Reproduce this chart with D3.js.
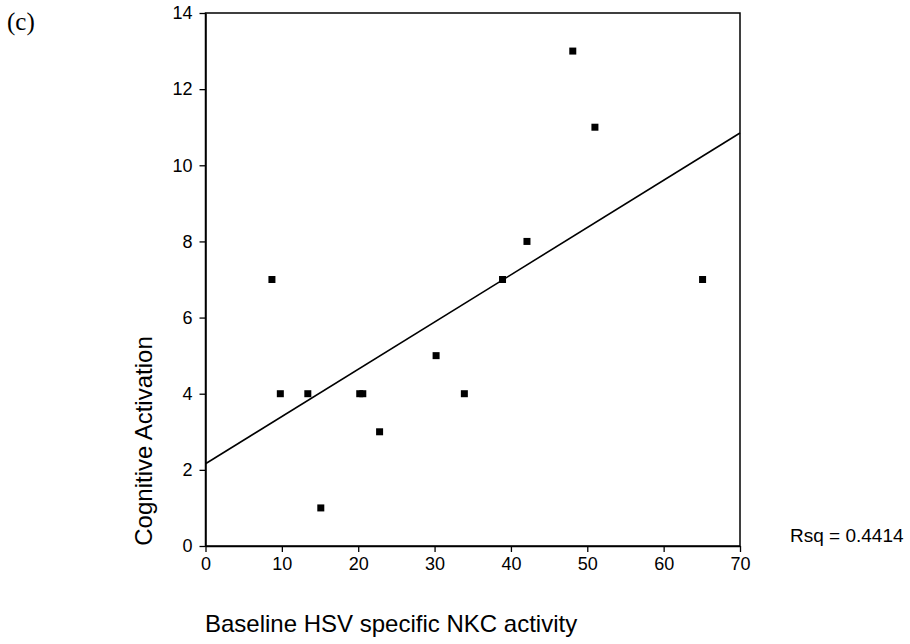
<!DOCTYPE html>
<html>
<head>
<meta charset="utf-8">
<script src="https://cdn.jsdelivr.net/npm/d3@7"></script>
<style>
  body { margin: 0; background: #fff; }
  svg { display: block; }
</style>
</head>
<body>
<div id="vis"></div>
<script>
// data
const NKC_ACTIVITY = [8.7, 9.8, 13.4, 15.1, 20.2, 20.6, 22.8, 30.2, 33.9, 38.9, 42.1, 48.1, 51.0, 65.1];
const COGNITIVE = [7, 4, 4, 1, 4, 4, 3, 5, 4, 7, 8, 13, 11, 7];
const X_TICKS = [0, 10, 20, 30, 40, 50, 60, 70];
const Y_TICKS = [0, 2, 4, 6, 8, 10, 12, 14];
const FIT_INTERCEPT = 2.16;
const FIT_SLOPE = 0.1241;
const RSQ_LABEL = "Rsq = 0.4414";

// frame
const FRAME_WIDTH = 910;
const FRAME_HEIGHT = 644;
const MARGINS = {left: 205.5, right: 170, top: 13, bottom: 98};

const VIS_WIDTH = FRAME_WIDTH - MARGINS.left - MARGINS.right;
const VIS_HEIGHT = FRAME_HEIGHT - MARGINS.top - MARGINS.bottom;

const FONT = "'Liberation Sans', Arial, sans-serif";

const FRAME = d3.select("#vis")
  .append("svg")
    .attr("width", FRAME_WIDTH)
    .attr("height", FRAME_HEIGHT);

const X_SCALE = d3.scaleLinear().domain([0, 70]).range([0, VIS_WIDTH]);
const Y_SCALE = d3.scaleLinear().domain([0, 14]).range([VIS_HEIGHT, 0]);

const plot = FRAME.append("g")
  .attr("transform", "translate(" + MARGINS.left + "," + MARGINS.top + ")");

// box around the plot
plot.append("rect")
  .attr("x", 0).attr("y", 0)
  .attr("width", VIS_WIDTH).attr("height", VIS_HEIGHT)
  .attr("fill", "none")
  .attr("stroke", "#000")
  .attr("stroke-width", 1.5);

// axes
const xAxis = plot.append("g")
  .attr("transform", "translate(0," + VIS_HEIGHT + ")")
  .call(d3.axisBottom(X_SCALE).tickValues(X_TICKS).tickSize(6).tickPadding(5).tickSizeOuter(0));

const yAxis = plot.append("g")
  .call(d3.axisLeft(Y_SCALE).tickValues(Y_TICKS).tickSize(6).tickPadding(7).tickSizeOuter(0));

[xAxis, yAxis].forEach((ax) => {
  ax.select(".domain").attr("stroke", "#000").attr("stroke-width", 1.5);
  ax.selectAll(".tick line").attr("stroke", "#000").attr("stroke-width", 1.3);
  ax.selectAll(".tick text")
    .attr("fill", "#000")
    .attr("font-family", FONT)
    .attr("font-size", "18px");
});

// regression line
plot.append("line")
  .attr("x1", X_SCALE(0))
  .attr("y1", Y_SCALE(FIT_INTERCEPT))
  .attr("x2", X_SCALE(70))
  .attr("y2", Y_SCALE(FIT_INTERCEPT + FIT_SLOPE * 70))
  .attr("stroke", "#000")
  .attr("stroke-width", 1.6);

// points
const points = NKC_ACTIVITY.map((x, i) => ({x: x, y: COGNITIVE[i]}));
const SIZE = 7;
plot.selectAll(".pt")
  .data(points)
  .enter()
  .append("rect")
    .attr("class", "pt")
    .attr("x", (d) => X_SCALE(d.x) - SIZE / 2)
    .attr("y", (d) => Y_SCALE(d.y) - SIZE / 2)
    .attr("width", SIZE)
    .attr("height", SIZE)
    .attr("fill", "#000");

// titles
FRAME.append("text")
  .attr("x", 205)
  .attr("y", 632)
  .attr("font-family", FONT)
  .attr("font-size", "24px")
  .attr("fill", "#000")
  .text("Baseline HSV specific NKC activity");

FRAME.append("text")
  .attr("transform", "translate(152,441) rotate(-90)")
  .attr("text-anchor", "middle")
  .attr("font-family", FONT)
  .attr("font-size", "24px")
  .attr("fill", "#000")
  .text("Cognitive Activation");

FRAME.append("text")
  .attr("x", 790)
  .attr("y", 542)
  .attr("font-family", FONT)
  .attr("font-size", "19px")
  .attr("fill", "#000")
  .text(RSQ_LABEL);

FRAME.append("text")
  .attr("x", 7)
  .attr("y", 30)
  .attr("font-family", "'Liberation Serif', 'Times New Roman', serif")
  .attr("font-size", "25px")
  .attr("fill", "#000")
  .text("(c)");
</script>
</body>
</html>
